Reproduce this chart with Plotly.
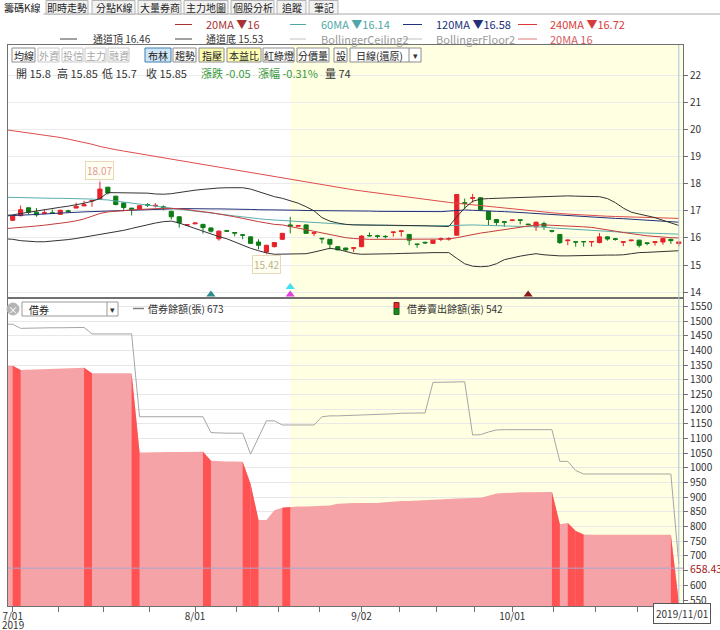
import plotly.graph_objects as go

# ---------------- data ----------------
# trading-day index 0 = 2019/07/01 ... 84 = 2019/11/01
month_labels = ["7/01", "8/01", "9/02", "10/01"]
year_label = "2019"
month_starts = [0, 23, 44, 63, 84]
last_date_label = "2019/11/01"

opens = [16.65, 16.82, 17.11, 16.95, 16.90, 16.93, 16.87, 17.00, 17.10, 17.18,
         17.36, 17.42, 17.87, 17.54, 17.29, 17.10, 17.05, 17.23, 17.18, 17.15,
         16.98, 16.78, 16.47, 16.52, 16.50, 16.37, 15.97, 16.27, 16.20, 16.12,
         16.04, 15.85, 15.48, 15.68, 15.95, 16.48, 16.43, 16.48, 16.17, 15.99,
         15.95, 15.68, 15.63, 15.62, 15.68, 16.09, 16.08, 16.06, 16.20, 16.24,
         16.13, 15.78, 15.84, 15.80, 15.95, 15.96, 16.10, 17.30, 17.46, 17.48,
         16.98, 16.68, 16.60, 16.64, 16.67, 16.51, 16.41, 16.53, 16.27, 16.13,
         15.90, 15.86, 15.87, 15.85, 15.83, 16.04, 15.97, 15.84, 15.90, 15.92,
         15.82, 15.83, 15.85, 15.95, 15.80]
highs = [16.82, 17.19, 17.13, 17.10, 17.05, 17.05, 17.04, 17.04, 17.30, 17.37,
         17.40, 18.07, 17.88, 17.55, 17.30, 17.10, 17.20, 17.28, 17.28, 17.20,
         17.00, 16.80, 16.50, 16.55, 16.52, 16.38, 16.28, 16.30, 16.20, 16.12,
         16.05, 15.95, 15.75, 15.85, 16.17, 16.78, 16.47, 16.50, 16.20, 15.99,
         15.96, 15.69, 15.64, 15.64, 16.10, 16.20, 16.12, 16.10, 16.22, 16.26,
         16.14, 15.78, 15.86, 15.92, 16.02, 16.03, 17.60, 17.45, 17.62, 17.50,
         16.99, 16.70, 16.60, 16.67, 16.67, 16.52, 16.60, 16.60, 16.28, 16.14,
         15.93, 15.86, 15.87, 15.87, 16.18, 16.05, 16.00, 15.86, 15.93, 15.93,
         15.82, 15.86, 15.99, 15.97, 15.85]
lows = [16.62, 16.80, 16.86, 16.78, 16.90, 16.88, 16.86, 16.93, 17.10, 17.18,
        17.15, 17.42, 17.60, 17.20, 16.98, 16.83, 17.04, 17.14, 17.12, 17.02,
        16.68, 16.38, 16.46, 16.51, 16.16, 16.20, 15.90, 16.22, 16.06, 15.95,
        15.80, 15.58, 15.42, 15.65, 15.95, 16.17, 16.42, 16.17, 16.07, 15.80,
        15.58, 15.55, 15.52, 15.47, 15.66, 16.05, 15.98, 15.98, 16.05, 16.05,
        15.73, 15.64, 15.78, 15.78, 15.88, 15.90, 16.10, 17.07, 17.30, 17.00,
        16.47, 16.45, 16.41, 16.62, 16.50, 16.48, 16.26, 16.30, 16.20, 15.78,
        15.73, 15.68, 15.68, 15.68, 15.80, 15.90, 15.90, 15.70, 15.87, 15.65,
        15.73, 15.72, 15.75, 15.78, 15.70]
closes = [16.80, 17.04, 16.95, 16.85, 16.93, 16.90, 17.02, 16.97, 17.17, 17.22,
          17.38, 17.80, 17.66, 17.23, 17.12, 17.06, 17.19, 17.21, 17.20, 17.12,
          16.78, 16.56, 16.49, 16.55, 16.38, 16.25, 16.25, 16.25, 16.18, 16.10,
          15.80, 15.73, 15.73, 15.83, 16.17, 16.43, 16.46, 16.17, 16.19, 15.97,
          15.77, 15.56, 15.56, 15.64, 16.07, 16.08, 16.06, 16.05, 16.22, 16.26,
          15.92, 15.76, 15.82, 15.92, 15.97, 15.98, 17.60, 17.27, 17.48, 17.05,
          16.68, 16.57, 16.58, 16.66, 16.65, 16.49, 16.58, 16.42, 16.25, 15.83,
          15.92, 15.85, 15.86, 15.87, 16.04, 15.96, 15.95, 15.86, 15.92, 15.73,
          15.80, 15.86, 15.98, 15.90, 15.85]

# indicator lines (first value = previous trading day, index -1)
ma240 = [19.99, 19.95, 19.91, 19.87, 19.83, 19.79, 19.75, 19.70, 19.64, 19.58, 19.52,
         19.45, 19.37, 19.30, 19.25, 19.20, 19.15, 19.10, 19.05, 19.00, 18.95,
         18.90, 18.85, 18.80, 18.75, 18.70, 18.65, 18.60, 18.55, 18.50, 18.45,
         18.40, 18.35, 18.30, 18.25, 18.20, 18.15, 18.10, 18.05, 18.00, 17.95,
         17.90, 17.86, 17.82, 17.77, 17.73, 17.69, 17.65, 17.61, 17.57, 17.54,
         17.50, 17.46, 17.43, 17.39, 17.35, 17.31, 17.28, 17.25, 17.22, 17.18,
         17.15, 17.12, 17.09, 17.06, 17.03, 17.00, 16.98, 16.95, 16.93, 16.90,
         16.88, 16.86, 16.84, 16.83, 16.81, 16.80, 16.79, 16.78, 16.77, 16.76,
         16.75, 16.74, 16.73, 16.73, 16.72]
ma120 = [16.81, 16.82, 16.83, 16.84, 16.86, 16.88, 16.90, 16.92, 16.94, 16.95, 16.96,
         16.97, 16.98, 17.00, 17.01, 17.02, 17.03, 17.04, 17.06, 17.07, 17.08,
         17.08, 17.08, 17.08, 17.07, 17.07, 17.07, 17.07, 17.07, 17.06, 17.05,
         17.05, 17.04, 17.04, 17.03, 17.03, 17.02, 17.02, 17.01, 17.01, 17.00,
         17.00, 17.00, 17.00, 17.00, 16.99, 16.99, 16.98, 16.98, 16.97, 16.97,
         16.96, 16.96, 16.96, 16.96, 16.97, 16.99, 17.02, 17.03, 17.02, 17.00,
         16.99, 16.98, 16.97, 16.96, 16.94, 16.92, 16.90, 16.88, 16.86, 16.84,
         16.82, 16.80, 16.78, 16.76, 16.74, 16.73, 16.72, 16.71, 16.69, 16.67,
         16.65, 16.62, 16.60, 16.59, 16.58]
ma60 = [17.50, 17.49, 17.48, 17.48, 17.47, 17.47, 17.46, 17.46, 17.46, 17.45, 17.44,
        17.43, 17.42, 17.40, 17.36, 17.32, 17.28, 17.24, 17.20, 17.16, 17.12,
        17.08, 17.05, 17.02, 16.99, 16.96, 16.93, 16.89, 16.85, 16.81, 16.77,
        16.74, 16.71, 16.68, 16.66, 16.64, 16.62, 16.60, 16.58, 16.56, 16.54,
        16.53, 16.51, 16.50, 16.49, 16.48, 16.47, 16.47, 16.46, 16.46, 16.45,
        16.45, 16.44, 16.44, 16.44, 16.45, 16.46, 16.48, 16.48, 16.48, 16.47,
        16.46, 16.45, 16.45, 16.45, 16.44, 16.43, 16.42, 16.40, 16.37, 16.35,
        16.33, 16.31, 16.29, 16.27, 16.26, 16.24, 16.23, 16.21, 16.20, 16.19,
        16.18, 16.17, 16.16, 16.15, 16.14]
ma20 = [16.34, 16.36, 16.38, 16.41, 16.44, 16.47, 16.50, 16.54, 16.58, 16.63, 16.70,
        16.80, 16.90, 16.96, 16.99, 17.01, 17.03, 17.05, 17.07, 17.08, 17.09,
        17.09, 17.08, 17.05, 17.00, 16.97, 16.93, 16.88, 16.84, 16.78, 16.72,
        16.65, 16.60, 16.55, 16.50, 16.48, 16.42, 16.36, 16.30, 16.24, 16.18,
        16.12, 16.06, 16.01, 15.98, 15.96, 15.95, 15.95, 15.95, 15.95, 15.95,
        15.95, 15.95, 15.95, 15.95, 15.95, 15.96, 16.01, 16.07, 16.14, 16.18,
        16.22, 16.26, 16.30, 16.35, 16.40, 16.44, 16.48, 16.48, 16.47, 16.46,
        16.44, 16.43, 16.41, 16.39, 16.35, 16.30, 16.25, 16.20, 16.15, 16.12,
        16.08, 16.05, 16.03, 16.01, 16.00]
channel_top = [16.83, 16.85, 16.90, 16.95, 17.00, 17.05, 17.10, 17.13, 17.17, 17.22, 17.28,
               17.35, 17.45, 17.67, 17.67, 17.67, 17.67, 17.67, 17.65, 17.62, 17.61,
               17.63, 17.68, 17.72, 17.76, 17.79, 17.82, 17.84, 17.85, 17.85, 17.85,
               17.80, 17.70, 17.60, 17.52, 17.46, 17.38, 17.28, 17.15, 17.00, 16.75,
               16.62, 16.55, 16.50, 16.48, 16.47, 16.47, 16.47, 16.47, 16.47, 16.46,
               16.46, 16.46, 16.45, 16.44, 16.43, 16.42, 16.78, 17.10, 17.35, 17.43,
               17.45, 17.46, 17.47, 17.48, 17.50, 17.51, 17.52, 17.53, 17.54, 17.55,
               17.55, 17.54, 17.53, 17.52, 17.52, 17.45, 17.30, 17.10, 16.95, 16.88,
               16.82, 16.75, 16.65, 16.55, 16.46]
channel_bottom = [15.97, 15.95, 15.90, 15.87, 15.86, 15.86, 15.88, 15.90, 15.94, 15.98, 16.03,
                  16.07, 16.12, 16.17, 16.22, 16.28, 16.35, 16.42, 16.48, 16.55, 16.60,
                  16.62, 16.55, 16.45, 16.33, 16.25, 16.15, 16.05, 15.97, 15.85, 15.72,
                  15.62, 15.53, 15.45, 15.40, 15.40, 15.40, 15.40, 15.42, 15.48, 15.55,
                  15.62, 15.58, 15.50, 15.43, 15.40, 15.40, 15.41, 15.41, 15.42, 15.43,
                  15.43, 15.44, 15.45, 15.46, 15.46, 15.46, 15.25, 15.05, 14.96, 14.94,
                  14.96, 15.05, 15.20, 15.27, 15.33, 15.38, 15.42, 15.38, 15.35, 15.34,
                  15.34, 15.35, 15.36, 15.36, 15.37, 15.37, 15.37, 15.38, 15.42, 15.46,
                  15.47, 15.48, 15.49, 15.50, 15.53]

# signal markers (index, price level, colour)
signal_idx = [25, 35, 35, 65]
signal_level = [13.92, 14.19, 13.92, 13.92]
signal_color = ["#2E8B8B", "#3FE0F0", "#E040E0", "#8B1A1A"]

# securities lending (first value = previous trading day, index -1)
lend_balance = [1489, 1489, 1475, 1476, 1476, 1476, 1477, 1477, 1477, 1478, 1478,
                1456, 1456, 1456, 1456, 1456, 1456, 1174, 1174, 1174, 1174,
                1174, 1174, 1174, 1174, 1174, 1120, 1118, 1118, 1118, 1118,
                1047, 1103, 1160, 1160, 1146, 1146, 1146, 1146, 1146, 1174,
                1177, 1177, 1178, 1179, 1180, 1180, 1180, 1181, 1184, 1186,
                1186, 1187, 1187, 1291, 1292, 1292, 1292, 1293, 1112, 1113,
                1122, 1129, 1130, 1130, 1130, 1130, 1130, 1130, 1130, 1022,
                1022, 991, 979, 979, 979, 979, 979, 979, 979, 979,
                979, 979, 979, 979, 673]
lend_sold = [1348, 1348, 1333, 1334, 1334, 1335, 1336, 1337, 1338, 1339, 1341,
             1322, 1322, 1322, 1322, 1322, 1322, 1052, 1053, 1053, 1054,
             1054, 1054, 1055, 1055, 1055, 1024, 1022, 1022, 1022, 1021,
             945, 822, 822, 856, 864, 867, 868, 868, 869, 870,
             872, 878, 880, 880, 880, 880, 880, 883, 886, 887,
             887, 888, 889, 891, 893, 894, 896, 897, 897, 898,
             905, 913, 914, 916, 917, 917, 918, 918, 918, 808,
             812, 785, 773, 772, 772, 772, 772, 772, 772, 772,
             772, 772, 772, 772, 542]
red_segments = [0, 9, 15, 24, 29, 30, 34, 68, 70, 71, 83]
crosshair_value = 658.43
lower_ticks = list(range(550, 1551, 50))

# ---------------- layout constants ----------------
W, H = 720, 630
ML, MR, MT, MB = 8, 37, 45, 24
PW, PH = W - ML - MR, H - MT - MB
FONT = "Noto Sans CJK TC, Noto Sans, sans-serif"
X0, X1 = -0.59, 84.53
RED, GREEN = "#E8222A", "#0E7C16"

def px(x):
    return (x - ML) / PW

def py(y):
    return (H - MB - y) / PH

n = len(opens)
idx = list(range(n))
idx_line = list(range(-1, n))

shapes, annotations = [], []

def rect(x0, y0, x1, y1, fill, line="#A0A0A0", width=1, layer="above"):
    shapes.append(dict(type="rect", xref="paper", yref="paper",
                       x0=px(x0), x1=px(x1), y0=py(y1), y1=py(y0),
                       fillcolor=fill, line=dict(color=line, width=width), layer=layer))

def hline(x0, x1, y, color, width=1):
    shapes.append(dict(type="line", xref="paper", yref="paper",
                       x0=px(x0), x1=px(x1), y0=py(y), y1=py(y),
                       line=dict(color=color, width=width)))

def vline(x, y0, y1, color, width=1):
    shapes.append(dict(type="line", xref="paper", yref="paper",
                       x0=px(x), x1=px(x), y0=py(y0), y1=py(y1),
                       line=dict(color=color, width=width)))

def text(x, y, s, size=10, color="#333333", anchor="left", **kw):
    annotations.append(dict(xref="paper", yref="paper", x=px(x), y=py(y), text=s,
                            showarrow=False, xanchor=anchor, yanchor="middle",
                            font=dict(family=FONT, size=size, color=color), **kw))

# yellow highlight (recent period) and crosshairs
shapes.append(dict(type="rect", xref="x", yref="paper", x0=35, x1=X1, y0=0, y1=1,
                   fillcolor="#FFFFE1", line=dict(width=0), layer="below"))
shapes.append(dict(type="line", xref="x", yref="paper", x0=84, x1=84, y0=0, y1=1,
                   line=dict(color="#A9C4DC", width=1)))
shapes.append(dict(type="line", xref="paper", yref="y2", x0=0, x1=1,
                   y0=crosshair_value, y1=crosshair_value,
                   line=dict(color="#A6A6D2", width=1)))

# ---- tab bar ----
hline(0, 720, 14, "#A8A8A8")
tabs = [("籌碼K線", 0, 43), ("即時走勢", 46, 88), ("分點K線", 92, 135), ("大量券商", 138, 181),
        ("主力地圖", 184, 228), ("個股分析", 231, 274), ("追蹤", 277, 306), ("筆記", 309, 338)]
for i, (lab, a, b) in enumerate(tabs):
    rect(a, 0.5, b, 14 if i else 14.5, "#FFFFFF" if i == 0 else "#F2F2F2",
         line="#B4B4B4" if i else "#FFFFFF")
    text((a + b) / 2, 7, lab, size=10, color="#222222", anchor="center")

# ---- indicator legend rows ----
leg1 = [(175, 192, 204, "#A83232", "20MA ▼16"), (290, 306, 319, "#4FA6A6", "60MA ▼16.14"),
        (403, 422, 434, "#23307A", "120MA ▼16.58"), (518, 537, 548, "#D83A3A", "240MA ▼16.72")]
leg2 = [(60, 77, 91, "#444444", "#333333", "通道頂 16.46"), (175, 192, 204, "#444444", "#333333", "通道底 15.53"),
        (290, 306, 319, "#C0C0C0", "#9A9A9A", "BollingerCeiling2"),
        (403, 422, 434, "#C0C0C0", "#9A9A9A", "BollingerFloor2"),
        (518, 537, 548, "#E07A7A", "#D45C5C", "20MA 16")]
for a, b, t, c, s in leg1:
    hline(a, b, 24.5, c)
    text(t, 24.5, s, size=11, color=c)
for a, b, t, c, tc, s in leg2:
    hline(a, b, 39, c)
    text(t, 39, s, size=10 if s[0] == "通" else 11, color=tc)

# ---- button bar ----
buttons = [("均線", 12, 35, "#FFFFFF", "#8C8C8C", "#222222"),
           ("外資", 38, 59, "#FFFFFF", "#C8C8C8", "#A8A8A8"),
           ("投信", 62, 83, "#FFFFFF", "#C8C8C8", "#A8A8A8"),
           ("主力", 85, 106, "#FFFFFF", "#C8C8C8", "#A8A8A8"),
           ("融資", 108, 129, "#FFFFFF", "#C8C8C8", "#A8A8A8"),
           ("布林", 145, 171, "#CFE6F7", "#3C7FB1", "#222222"),
           ("趨勢", 173, 196, "#FFFFFF", "#8C8C8C", "#222222"),
           ("指壓", 199, 224, "#FFFFB4", "#8C8C8C", "#222222"),
           ("本益比", 227, 261, "#FFFFB4", "#8C8C8C", "#222222"),
           ("紅綠燈", 263, 294, "#FFFFFF", "#8C8C8C", "#222222"),
           ("分價量", 297, 329, "#FFFFFF", "#8C8C8C", "#222222"),
           ("設", 334, 347, "#FFFFFF", "#8C8C8C", "#222222")]
for lab, a, b, fill, bc, tc in buttons:
    rect(a, 48, b, 62, fill, line=bc)
    text((a + b) / 2, 55, lab, size=10, color=tc, anchor="center")
rect(350, 48, 421, 62, "#FFFFFF", line="#8C8C8C")
vline(409, 48, 62, "#8C8C8C")
text(354, 55, "日線(還原)", size=10, color="#222222")
text(415, 55, "▾", size=9, color="#333333", anchor="center")

# ---- OHLC info row ----
info = [(14, "開 15.8", "#333333"), (55, "高 15.85", "#333333"), (100, "低 15.7", "#333333"),
        (144, "收 15.85", "#333333"), (199, "漲跌 -0.05", "#3A9A3A"),
        (256, "漲幅 -0.31%", "#3A9A3A"), (323, "量 74", "#333333")]
for x, s, c in info:
    text(x, 73, s, size=11, color=c)

# ---- lower panel legend ----
shapes.append(dict(type="circle", xref="paper", yref="paper", x0=px(7), x1=px(19),
                   y0=py(315), y1=py(303), fillcolor="#B4B4B4", line=dict(color="#B4B4B4", width=1)))
text(13, 309, "×", size=10, color="#FFFFFF", anchor="center")
rect(22, 302, 118, 316, "#FFFFFF", line="#9A9A9A")
vline(107, 302, 316, "#9A9A9A")
text(27, 309, "借券", size=10, color="#222222")
text(112.5, 309, "▾", size=9, color="#333333", anchor="center")
hline(133, 144, 308.5, "#808080", width=1.5)
text(146, 308.5, "借券餘額(張) 673", size=10, color="#333333")
rect(394, 302.5, 399, 308.5, "#E82A2A", line="#7A2020")
rect(394, 308.5, 399, 314.5, "#188A1E", line="#1F5F20")
text(405, 308.5, "借券賣出餘額(張) 542", size=10, color="#333333")

# crosshair value / date labels
annotations.append(dict(xref="paper", yref="y2", x=px(688), y=crosshair_value, text="658.43",
                        showarrow=False, xanchor="left", yanchor="middle",
                        font=dict(family=FONT, size=10.5, color="#A01818")))
text(682, 613, last_date_label, size=10, color="#333333", anchor="center",
     bgcolor="#FFFFFF", bordercolor="#555555", borderwidth=1, borderpad=2)
text(1, 624, year_label, size=10, color="#333333", borderpad=0)

# high / low price tags
annotations.append(dict(xref="x", yref="y", x=11, y=max(highs), text=f"{max(highs):.2f}",
                        showarrow=True, arrowhead=0, arrowcolor="#E8C6C6", arrowwidth=1,
                        ax=0, ay=-11, bgcolor="#FFFFF2", bordercolor="#E6D8B8", borderwidth=1,
                        borderpad=1, font=dict(family=FONT, size=10, color="#E39A9A")))
annotations.append(dict(xref="x", yref="y", x=32, y=min(lows), text=f"{min(lows):.2f}",
                        showarrow=True, arrowhead=0, arrowcolor="#E0D8B8", arrowwidth=1,
                        ax=0, ay=11, bgcolor="#FFFFF2", bordercolor="#E6D8B8", borderwidth=1,
                        borderpad=1, font=dict(family=FONT, size=10, color="#BDB28E")))

# ---------------- traces ----------------
fig = go.Figure()
line_specs = [(ma240, "#DD4C4C", "240MA"), (ma120, "#23307A", "120MA"), (ma60, "#5AAEAE", "60MA"),
              (ma20, "#C43C3C", "20MA"), (channel_top, "#333333", "通道頂"),
              (channel_bottom, "#333333", "通道底")]
for vals, col, name in line_specs:
    fig.add_trace(go.Scatter(x=idx_line, y=vals, mode="lines", name=name,
                             line=dict(color=col, width=1), xaxis="x", yaxis="y",
                             hoverinfo="skip"))
fig.add_trace(go.Candlestick(x=idx, open=opens, high=highs, low=lows, close=closes,
                             increasing=dict(line=dict(color=RED, width=1), fillcolor=RED),
                             decreasing=dict(line=dict(color=GREEN, width=1), fillcolor=GREEN),
                             whiskerwidth=0, xaxis="x", yaxis="y", name="K"))
fig.add_trace(go.Scatter(x=signal_idx, y=signal_level, mode="markers", xaxis="x", yaxis="y",
                         marker=dict(symbol="triangle-up", size=8, color=signal_color),
                         cliponaxis=False, hoverinfo="skip"))

fig.add_trace(go.Scatter(x=idx_line, y=lend_sold, mode="lines", fill="tozeroy",
                         fillcolor="#F6A3A7", line=dict(width=0, color="#F6A3A7"),
                         xaxis="x2", yaxis="y2", name="借券賣出餘額(張)"))
for k in red_segments:
    fig.add_trace(go.Scatter(x=[k, k + 1], y=lend_sold[k + 1:k + 3], mode="lines",
                             fill="tozeroy", fillcolor="#FF5252",
                             line=dict(width=0, color="#FF5252"),
                             xaxis="x2", yaxis="y2", hoverinfo="skip"))
fig.add_trace(go.Scatter(x=idx_line, y=lend_balance, mode="lines",
                         line=dict(color="#A5A5A5", width=1),
                         xaxis="x2", yaxis="y2", name="借券餘額(張)"))

# x ticks: four per month
tickvals, ticktext = [], []
for i, (a, b) in enumerate(zip(month_starts[:-1], month_starts[1:])):
    for q in range(4):
        tickvals.append(a + (b - a) * q / 4)
        ticktext.append(month_labels[i] if q == 0 else "")
tickvals.append(month_starts[-1])
ticktext.append("")

# lower y ticks: the crosshair label replaces the nearby 650 label
lower_text = ["" if abs(v - crosshair_value) < 25 else str(v) for v in lower_ticks]

top_dom = [(606 - 297) / PH, 1]
bot_dom = [0, (606 - 298.5) / PH]
axis_font = dict(family=FONT, size=10, color="#333333")

fig.update_layout(
    width=W, height=H, margin=dict(l=ML, r=MR, t=MT, b=MB, autoexpand=False),
    paper_bgcolor="#FFFFFF", plot_bgcolor="#FFFFFF", showlegend=False,
    boxgap=0.25, hovermode=False,
    xaxis=dict(domain=[0, 1], range=[X0, X1], anchor="y", showticklabels=False,
               showgrid=False, zeroline=False, showline=True, linecolor="#707070",
               mirror=True, ticks="", rangeslider=dict(visible=False), fixedrange=True,
               automargin=False),
    yaxis=dict(domain=top_dom, range=[13.826, 23.105], side="right",
               tickvals=list(range(14, 23)), ticks="outside", ticklen=4, tickcolor="#707070",
               showgrid=True, gridcolor="#EBEBEB", zeroline=False, showline=True,
               linecolor="#707070", mirror=True, tickfont=axis_font, fixedrange=True,
               automargin=False),
    xaxis2=dict(domain=[0, 1], range=[X0, X1], anchor="y2", tickvals=tickvals,
                ticktext=ticktext, ticks="outside", ticklen=5, tickcolor="#707070",
                showgrid=False, zeroline=False, showline=True, linecolor="#707070",
                mirror=True, tickfont=axis_font, tickangle=0, fixedrange=True,
                automargin=False, ticklabelstandoff=-4),
    yaxis2=dict(domain=bot_dom, range=[529.6, 1576.6], side="right",
                tickvals=lower_ticks, ticktext=lower_text, ticks="outside", ticklen=4,
                tickcolor="#707070", showgrid=True, gridcolor="#E8E8E8", zeroline=False,
                showline=True, linecolor="#707070", mirror=True, tickfont=axis_font,
                fixedrange=True, automargin=False),
    shapes=shapes, annotations=annotations,
)

fig.write_html("out.html", config={"displayModeBar": False},
               post_script="document.body.style.margin='0';document.body.style.overflow='hidden';")
